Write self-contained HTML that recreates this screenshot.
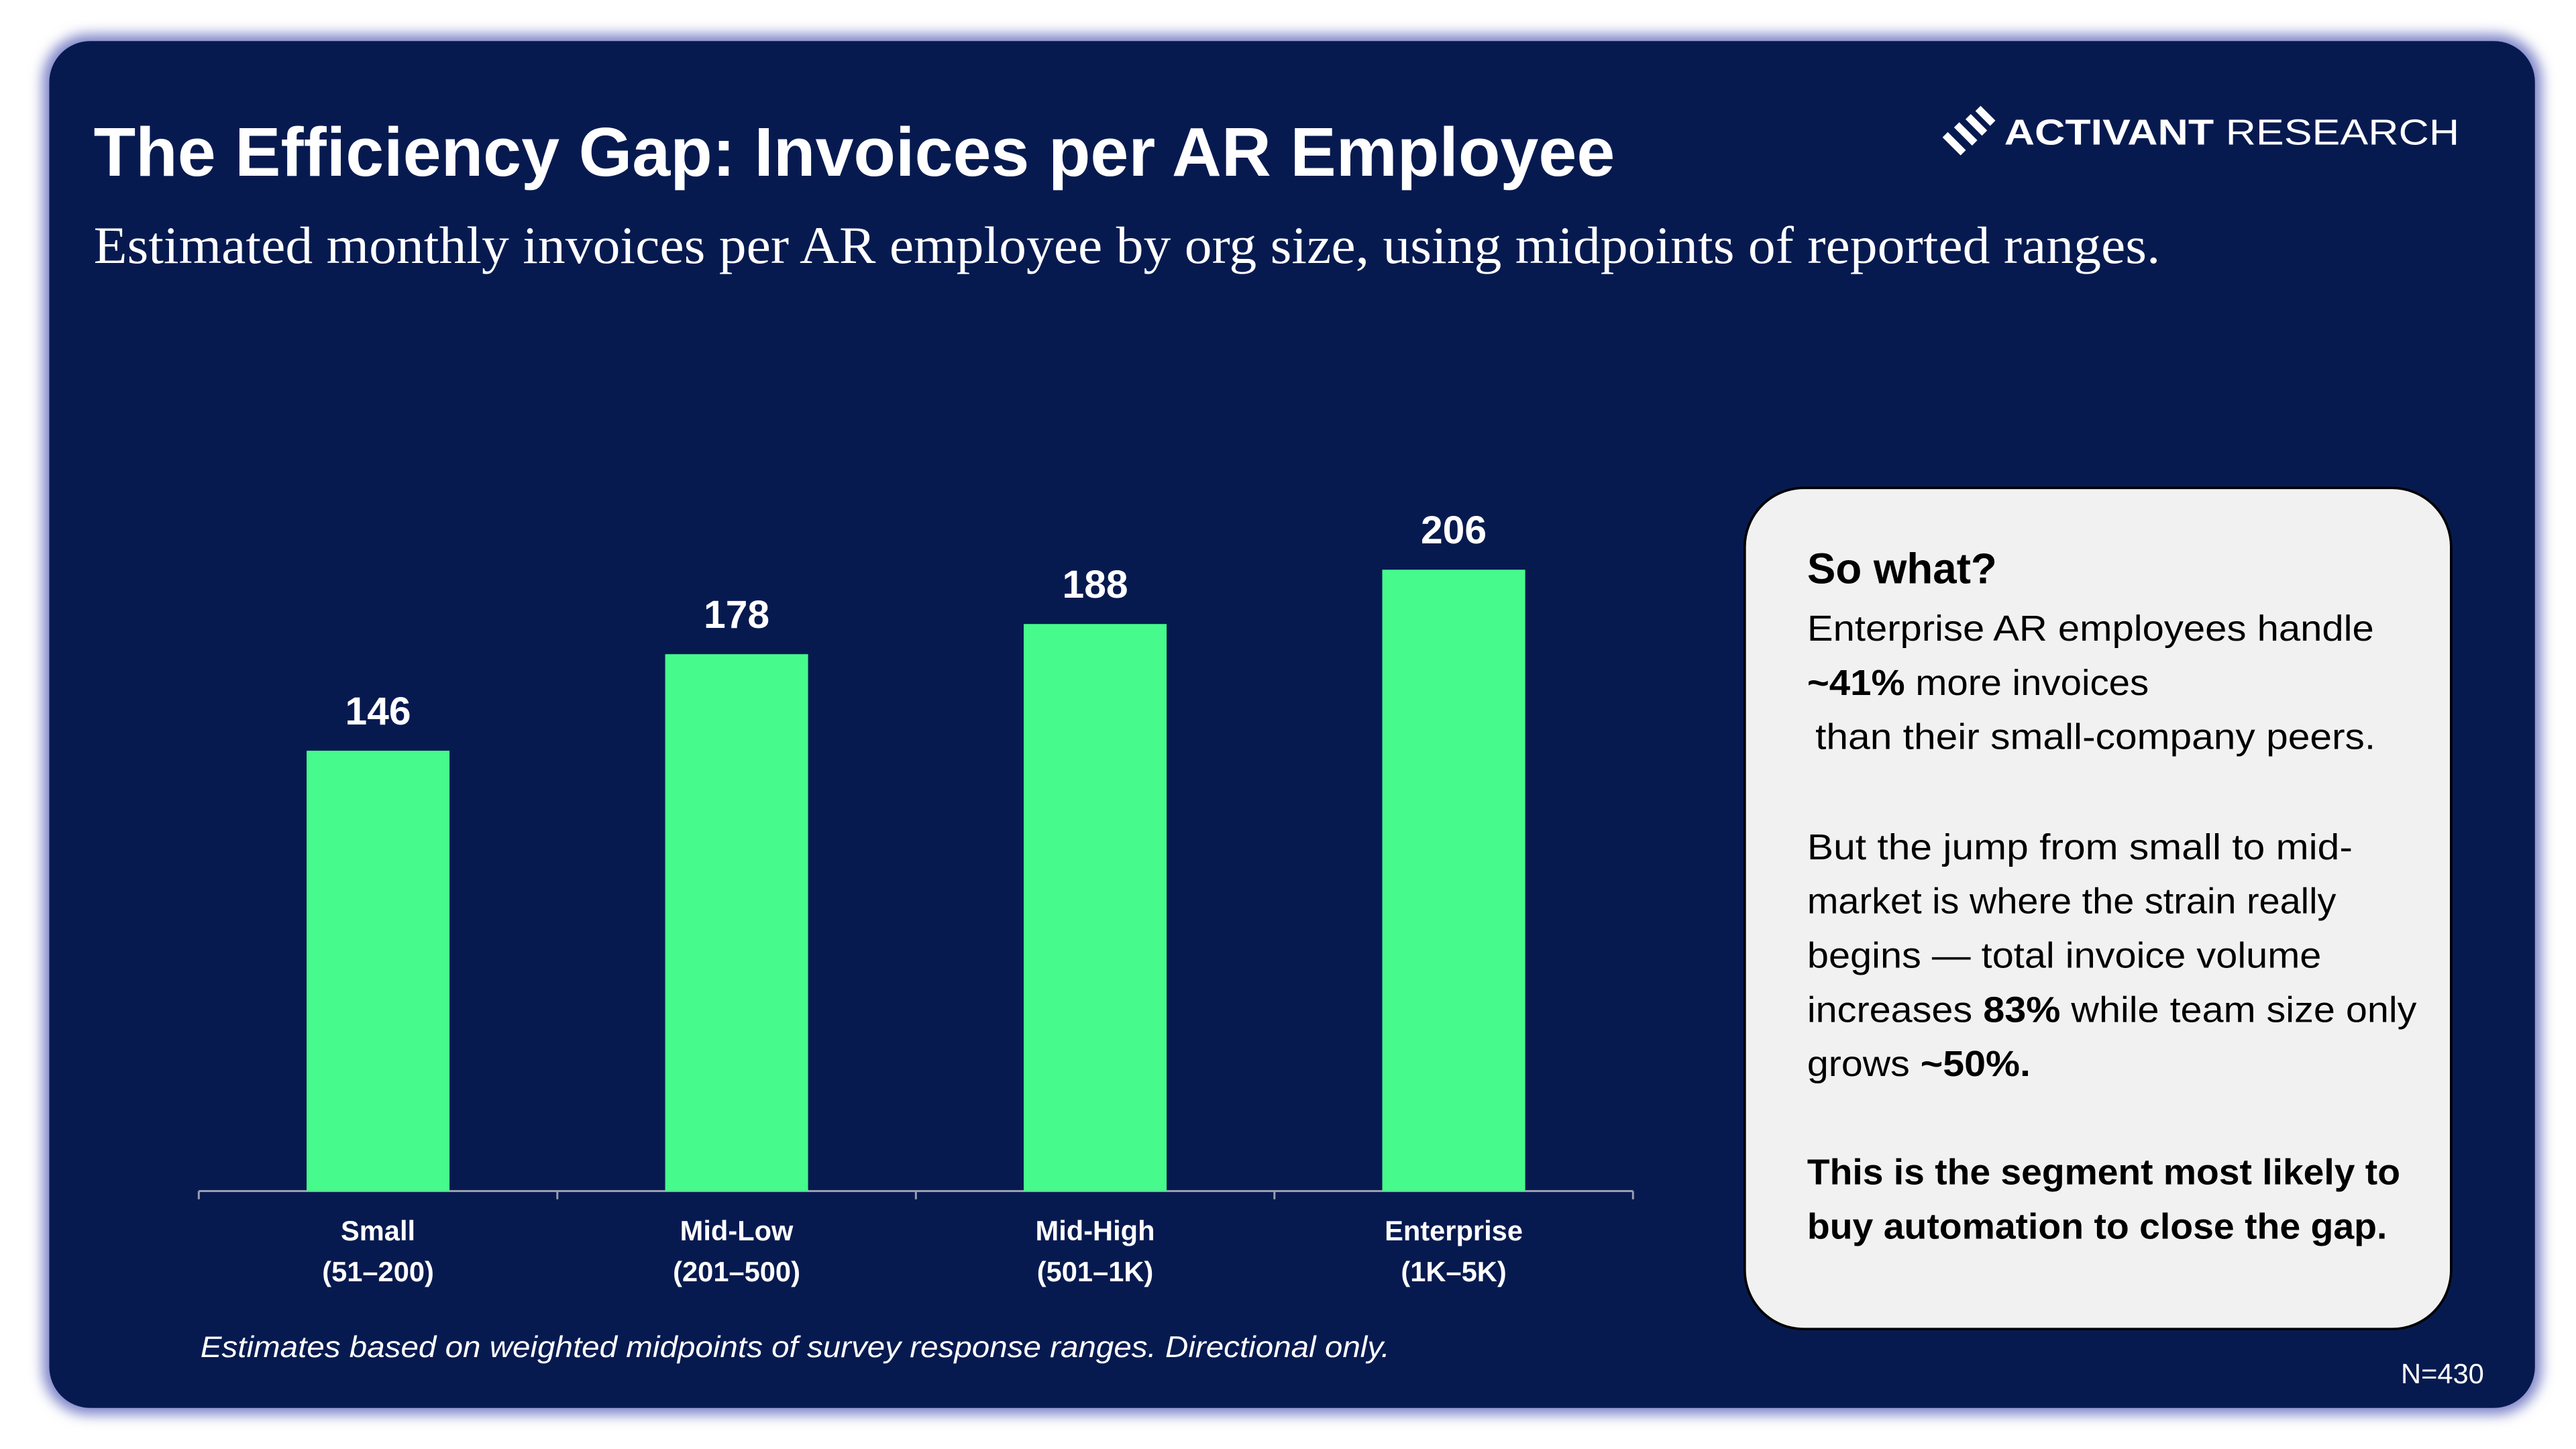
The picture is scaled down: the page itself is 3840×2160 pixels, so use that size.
<!DOCTYPE html>
<html><head><meta charset="utf-8"><style>
html,body{margin:0;padding:0;background:#fff;width:3840px;height:2160px;overflow:hidden}
svg{display:block}
text{font-family:"Liberation Sans",sans-serif}
</style></head><body>
<svg id="root" width="3840" height="2160" viewBox="0 0 1568 882" preserveAspectRatio="none" xmlns="http://www.w3.org/2000/svg">
<defs>
<filter id="glow" x="-5%" y="-5%" width="110%" height="110%"><feGaussianBlur stdDeviation="4"/></filter>
</defs>
<rect x="0" y="0" width="1568" height="882" fill="#ffffff"/>
<rect x="26" y="21" width="1521" height="840" rx="28" fill="#7c82c8" filter="url(#glow)"/>
<rect x="30" y="25" width="1513" height="832" rx="25" fill="#071a50"/>

<text x="57" y="107" font-size="42" font-weight="bold" fill="#fff" textLength="926" lengthAdjust="spacingAndGlyphs">The Efficiency Gap: Invoices per AR Employee</text>
<text x="57" y="160" font-size="32" fill="#fff" style="font-family:'Liberation Serif',serif" textLength="1258" lengthAdjust="spacingAndGlyphs">Estimated monthly invoices per AR employee by org size, using midpoints of reported ranges.</text>

<g>
<g stroke="#fff" stroke-width="4.5" stroke-linecap="butt">
<line x1="1184" y1="82" x2="1195" y2="93"/>
<line x1="1191" y1="76" x2="1202" y2="87"/>
<line x1="1198" y1="71" x2="1208" y2="81"/>
<line x1="1204" y1="66" x2="1213" y2="75"/>
</g>
<text x="1220" y="88" font-size="22" fill="#fff" textLength="277" lengthAdjust="spacingAndGlyphs"><tspan font-weight="bold">ACTIVANT</tspan> RESEARCH</text>
</g>

<g id="chart"></g>

<text x="122" y="826" font-size="18" font-style="italic" fill="#fff" textLength="724" lengthAdjust="spacingAndGlyphs">Estimates based on weighted midpoints of survey response ranges. Directional only.</text>
<text x="1512" y="842" font-size="17" fill="#fff" text-anchor="end">N=430</text>

<g>
<rect x="1062" y="297" width="430" height="512" rx="36" fill="#f1f1f1" stroke="#000" stroke-width="1.5"/>
<text x="1100" y="355" font-size="26" font-weight="bold" fill="#000">So what?</text>
<g font-size="22" fill="#000">
<text x="1100" y="390" textLength="345" lengthAdjust="spacingAndGlyphs">Enterprise AR employees handle</text>
<text x="1100" y="423" textLength="208" lengthAdjust="spacingAndGlyphs"><tspan font-weight="bold">~41%</tspan> more invoices</text>
<text x="1105" y="456" textLength="341" lengthAdjust="spacingAndGlyphs">than their small-company peers.</text>
<text x="1100" y="523" textLength="332" lengthAdjust="spacingAndGlyphs">But the jump from small to mid-</text>
<text x="1100" y="556" textLength="322" lengthAdjust="spacingAndGlyphs">market is where the strain really</text>
<text x="1100" y="589" textLength="313" lengthAdjust="spacingAndGlyphs">begins — total invoice volume</text>
<text x="1100" y="622" textLength="371" lengthAdjust="spacingAndGlyphs">increases <tspan font-weight="bold">83%</tspan> while team size only</text>
<text x="1100" y="655" textLength="136" lengthAdjust="spacingAndGlyphs">grows <tspan font-weight="bold">~50%.</tspan></text>
<text x="1100" y="721" font-weight="bold" textLength="361" lengthAdjust="spacingAndGlyphs">This is the segment most likely to</text>
<text x="1100" y="754" font-weight="bold" textLength="353" lengthAdjust="spacingAndGlyphs">buy automation to close the gap.</text>
</g>
</g>
</svg>
<script>
const categories = ["Small", "Mid-Low", "Mid-High", "Enterprise"];
const categoryRanges = ["(51–200)", "(201–500)", "(501–1K)", "(1K–5K)"];
const invoiceValues = [146, 178, 188, 206];

const NS = "http://www.w3.org/2000/svg";
const g = document.getElementById("chart");
const plotLeft = 121, plotRight = 994, baseY = 725, unit = 1.836, barW = 87;
const band = (plotRight - plotLeft) / categories.length;
function xCenter(i){ return plotLeft + band * (i + 0.5); }
function yScale(v){ return baseY - v * unit; }
function mk(tag, attrs){ const e = document.createElementNS(NS, tag); for (const k in attrs) e.setAttribute(k, attrs[k]); return e; }

const axis = mk("line", {x1: plotLeft, y1: baseY, x2: plotRight, y2: baseY, stroke: "#9a9fb0", "stroke-width": 1.2});


g.appendChild(axis);
for (let i = 0; i <= categories.length; i++) {
  const tx = plotLeft + band * i;
  const t = mk("line", {x1: tx, y1: baseY, x2: tx, y2: baseY + 5, stroke: "#9a9fb0", "stroke-width": 1.2});
  
  
  g.appendChild(t);
}
invoiceValues.forEach((v, i) => {
  const cx = xCenter(i), top = yScale(v);
  const bar = mk("rect", {x: cx - barW / 2, y: top, width: barW, height: baseY - top, fill: "#47fa8c"});
  
  
  g.appendChild(bar);
  const lbl = mk("text", {x: cx, y: top - 16, "font-size": 24, "font-weight": "bold", fill: "#fff", "text-anchor": "middle"});
  lbl.textContent = v;
  
  
  g.appendChild(lbl);
  const c1 = mk("text", {x: cx, y: 755, "font-size": 17, "font-weight": "bold", fill: "#fff", "text-anchor": "middle"});
  c1.textContent = categories[i];
  
  
  g.appendChild(c1);
  const c2 = mk("text", {x: cx, y: 780, "font-size": 17, "font-weight": "bold", fill: "#fff", "text-anchor": "middle"});
  c2.textContent = categoryRanges[i];
  
  
  g.appendChild(c2);
});
</script>
</body></html>
